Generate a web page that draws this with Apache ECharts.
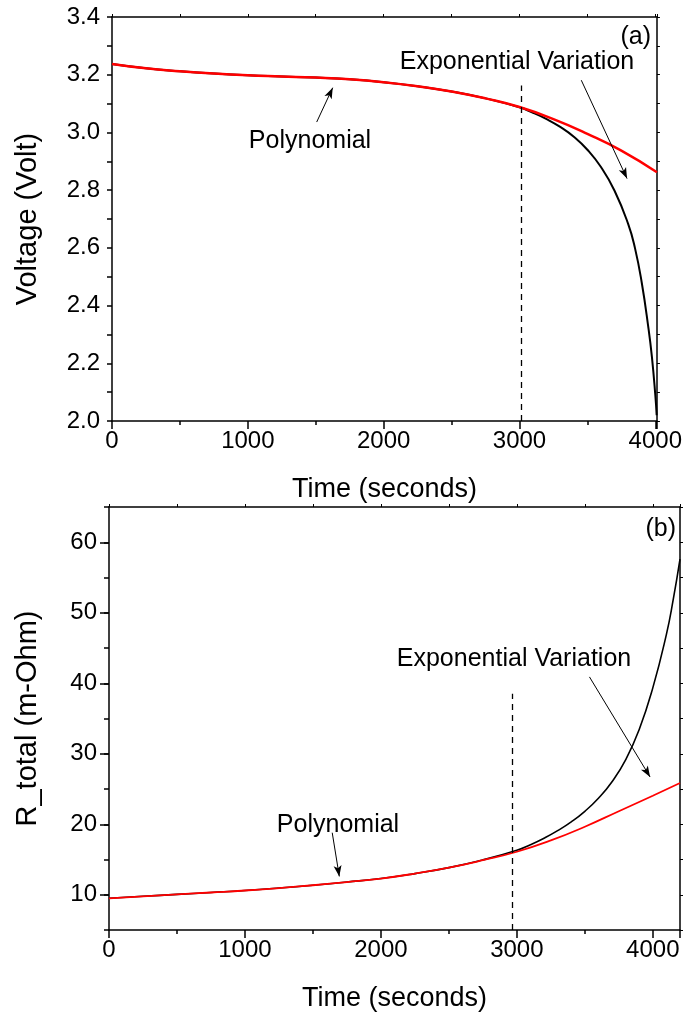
<!DOCTYPE html>
<html>
<head>
<meta charset="utf-8">
<script src="https://cdn.jsdelivr.net/npm/echarts@6/dist/echarts.min.js"></script>
<style>
html,body{margin:0;padding:0;background:#fff;}
#chart{width:685px;height:1019px;}
</style>
</head>
<body>
<div id="chart"></div>
<script>
// ---------- Panel (a): Voltage ----------
var timeA_poly = [0, 250, 500, 750, 1000, 1250, 1500, 1750, 2000, 2250, 2500, 2750, 3000, 3250, 3500, 3750, 4012];
var voltA_poly = [3.237, 3.222, 3.212, 3.204, 3.198, 3.194, 3.190, 3.184, 3.174, 3.160, 3.142, 3.118, 3.088, 3.046, 2.995, 2.937, 2.862];
var timeA_exp = [0, 250, 500, 750, 1000, 1250, 1500, 1750, 2000, 2250, 2500, 2750, 3000, 3100, 3200, 3300, 3400, 3500, 3600, 3700, 3800, 3850, 3900, 3950, 3975, 4000, 4010];
var voltA_exp = [3.237, 3.222, 3.212, 3.204, 3.198, 3.194, 3.190, 3.184, 3.174, 3.160, 3.142, 3.118, 3.087, 3.068, 3.046, 3.019, 2.985, 2.940, 2.880, 2.798, 2.683, 2.600, 2.480, 2.320, 2.222, 2.090, 2.020];
var xTicksA = [0, 1000, 2000, 3000, 4000];

// ---------- Panel (b): R_total ----------
var timeB_poly = [0, 250, 500, 750, 1000, 1250, 1500, 1750, 2000, 2250, 2500, 2750, 3000, 3250, 3500, 3750, 4000, 4200];
var resB_poly = [9.5, 9.78, 10.05, 10.32, 10.6, 10.95, 11.35, 11.8, 12.3, 13.0, 13.85, 14.9, 16.1, 17.7, 19.65, 21.85, 24.05, 25.85];
var timeB_exp = [0, 250, 500, 750, 1000, 1250, 1500, 1750, 2000, 2250, 2500, 2750, 3000, 3100, 3200, 3300, 3400, 3500, 3600, 3700, 3800, 3900, 4000, 4100, 4150, 4200];
var resB_exp = [9.5, 9.78, 10.05, 10.32, 10.6, 10.95, 11.35, 11.8, 12.3, 13.0, 13.85, 14.95, 16.3, 17.1, 18.02, 19.09, 20.34, 21.84, 23.69, 26.04, 29.14, 33.44, 39.34, 46.94, 51.85, 57.6];
var xTicksB = [0, 1000, 2000, 3000, 4000];
var yTicksB = [10, 20, 30, 40, 50, 60];

// annotation positions (data coordinates)
var dashA = [[3010, 2.0], [3010, 3.163]];
var dashB = [[2965, 5], [2965, 38.5]];
var arrowPolyA = [[1507, 3.036], [1625, 3.155]];
var arrowExpA = [[3455, 3.181], [3792, 2.84]];
var arrowPolyB = [[1642, 18.8], [1694, 12.6]];
var arrowExpB = [[3534, 40.9], [3980, 26.7]];

function pairs(xs, ys) { return xs.map(function (x, i) { return [x, ys[i]]; }); }

var FONT = "'Liberation Sans', Arial, sans-serif";
var AX = '#000';

function xAxisMain(grid, max, ticks) {
  return {
    type: 'value', gridIndex: grid, position: 'bottom', min: 0, max: max, interval: 1000,
    name: 'Time (seconds)', nameLocation: 'middle', nameGap: 55,
    nameTextStyle: { fontFamily: FONT, fontSize: 27, color: '#000' },
    axisLine: { show: true, onZero: false, lineStyle: { color: AX, width: 1.5 } },
    axisTick: { show: true, length: 8, lineStyle: { color: AX, width: 1.5 } },
    minorTick: { show: true, splitNumber: 2, length: 4, lineStyle: { color: AX, width: 1.5 } },
    axisLabel: { margin: 8, fontFamily: FONT, fontSize: 24, color: '#000',
      formatter: function (v) { return ticks.indexOf(v) >= 0 ? String(v) : ''; } },
    splitLine: { show: false }
  };
}
function xAxisTop(grid, max) {
  return {
    type: 'value', gridIndex: grid, position: 'top', min: 0, max: max, interval: 500,
    axisLine: { show: true, onZero: false, lineStyle: { color: AX, width: 1.5 } },
    axisTick: { show: true, length: 3, lineStyle: { color: AX, width: 1 } },
    axisLabel: { show: false }, splitLine: { show: false }
  };
}

var option = {
  backgroundColor: '#fff',
  animation: false,
  grid: [
    { left: 112, top: 17, width: 545, height: 404 },
    { left: 109, top: 507, width: 571, height: 423 }
  ],
  xAxis: [
    xAxisMain(0, 4012, xTicksA),
    xAxisTop(0, 4012),
    xAxisMain(1, 4200, xTicksB),
    xAxisTop(1, 4200)
  ],
  yAxis: [
    {
      type: 'value', gridIndex: 0, position: 'left', min: 2.0, max: 3.4, interval: 0.2,
      name: 'Voltage (Volt)', nameLocation: 'middle', nameGap: 70, nameRotate: 90,
      nameTextStyle: { fontFamily: FONT, fontSize: 29, color: '#000' },
      axisLine: { show: true, onZero: false, lineStyle: { color: AX, width: 1.5 } },
      axisTick: { show: true, length: 5, lineStyle: { color: AX, width: 1.5 } },
      minorTick: { show: true, splitNumber: 2, length: 5, lineStyle: { color: AX, width: 1.5 } },
      axisLabel: { margin: 12, fontFamily: FONT, fontSize: 24, color: '#000',
        formatter: function (v) { return v.toFixed(1); } },
      splitLine: { show: false }
    },
    {
      type: 'value', gridIndex: 0, position: 'right', min: 2.0, max: 3.4, interval: 0.1,
      axisLine: { show: true, onZero: false, lineStyle: { color: AX, width: 1.5 } },
      axisTick: { show: true, length: 3, lineStyle: { color: AX, width: 1 } },
      axisLabel: { show: false }, splitLine: { show: false }
    },
    {
      type: 'value', gridIndex: 1, position: 'left', min: 5, max: 65, interval: 5,
      name: 'R_total (m-Ohm)', nameLocation: 'middle', nameGap: 67, nameRotate: 90,
      nameTextStyle: { fontFamily: FONT, fontSize: 29, color: '#000' },
      axisLine: { show: true, onZero: false, lineStyle: { color: AX, width: 1.5 } },
      axisTick: { show: true, length: 5, lineStyle: { color: AX, width: 1.5 } },
      axisLabel: { margin: 12, fontFamily: FONT, fontSize: 24, color: '#000',
        formatter: function (v) { return yTicksB.indexOf(v) >= 0 ? String(v) : ''; } },
      splitLine: { show: false }
    },
    {
      type: 'value', gridIndex: 1, position: 'right', min: 5, max: 65, interval: 5,
      axisLine: { show: true, onZero: false, lineStyle: { color: AX, width: 1.5 } },
      axisTick: { show: true, length: 3, lineStyle: { color: AX, width: 1 } },
      axisLabel: { show: false }, splitLine: { show: false }
    },
    {
      type: 'value', gridIndex: 1, position: 'left', min: 5, max: 65, interval: 5,
      axisLine: { show: false },
      axisTick: { show: true, length: 9, customValues: yTicksB, lineStyle: { color: AX, width: 1.5 } },
      axisLabel: { show: false }, splitLine: { show: false }
    }
  ],
  series: [
    {
      type: 'line', xAxisIndex: 0, yAxisIndex: 0, data: pairs(timeA_exp, voltA_exp),
      showSymbol: false, smooth: 0.5,
      lineStyle: { color: '#000', width: 2 }, silent: true, z: 2,
      markLine: {
        silent: true, symbol: ['none', 'none'], label: { show: false },
        lineStyle: { color: '#000', width: 1.3, type: [6, 5] },
        data: [[{ coord: dashA[0] }, { coord: dashA[1] }]]
      }
    },
    {
      type: 'line', xAxisIndex: 0, yAxisIndex: 0, data: pairs(timeA_poly, voltA_poly),
      showSymbol: false, smooth: 0.5,
      lineStyle: { color: '#ff0000', width: 2.5 }, silent: true, z: 3,
      markLine: {
        silent: true, symbol: ['none', 'arrow'], symbolSize: [6, 11], label: { show: false },
        lineStyle: { color: '#000', width: 1, type: 'solid' },
        data: [
          [{ coord: arrowPolyA[0] }, { coord: arrowPolyA[1] }],
          [{ coord: arrowExpA[0] }, { coord: arrowExpA[1] }]
        ]
      }
    },
    {
      type: 'line', xAxisIndex: 2, yAxisIndex: 2, data: pairs(timeB_exp, resB_exp),
      showSymbol: false, smooth: 0.5,
      lineStyle: { color: '#000', width: 1.6 }, silent: true, z: 2,
      markLine: {
        silent: true, symbol: ['none', 'none'], label: { show: false },
        lineStyle: { color: '#000', width: 1.3, type: [6, 5] },
        data: [[{ coord: dashB[0] }, { coord: dashB[1] }]]
      }
    },
    {
      type: 'line', xAxisIndex: 2, yAxisIndex: 2, data: pairs(timeB_poly, resB_poly),
      showSymbol: false, smooth: 0.5,
      lineStyle: { color: '#ff0000', width: 1.8 }, silent: true, z: 3,
      markLine: {
        silent: true, symbol: ['none', 'arrow'], symbolSize: [6, 11], label: { show: false },
        lineStyle: { color: '#000', width: 1, type: 'solid' },
        data: [
          [{ coord: arrowPolyB[0] }, { coord: arrowPolyB[1] }],
          [{ coord: arrowExpB[0] }, { coord: arrowExpB[1] }]
        ]
      }
    }
  ],
  graphic: [
    { type: 'text', x: 651, y: 37, style: { text: '(a)', font: "25px 'Liberation Sans', Arial, sans-serif", fill: '#000', textAlign: 'right', textVerticalAlign: 'middle' } },
    { type: 'text', x: 517, y: 62, style: { text: 'Exponential Variation', font: "25px 'Liberation Sans', Arial, sans-serif", fill: '#000', textAlign: 'center', textVerticalAlign: 'middle' } },
    { type: 'text', x: 310, y: 141, style: { text: 'Polynomial', font: "25px 'Liberation Sans', Arial, sans-serif", fill: '#000', textAlign: 'center', textVerticalAlign: 'middle' } },
    { type: 'text', x: 676, y: 529, style: { text: '(b)', font: "25px 'Liberation Sans', Arial, sans-serif", fill: '#000', textAlign: 'right', textVerticalAlign: 'middle' } },
    { type: 'text', x: 514, y: 659, style: { text: 'Exponential Variation', font: "25px 'Liberation Sans', Arial, sans-serif", fill: '#000', textAlign: 'center', textVerticalAlign: 'middle' } },
    { type: 'text', x: 338, y: 825, style: { text: 'Polynomial', font: "25px 'Liberation Sans', Arial, sans-serif", fill: '#000', textAlign: 'center', textVerticalAlign: 'middle' } }
  ]
};

var chart = echarts.init(document.getElementById('chart'), null, { renderer: 'canvas' });
chart.setOption(option);
</script>
</body>
</html>
